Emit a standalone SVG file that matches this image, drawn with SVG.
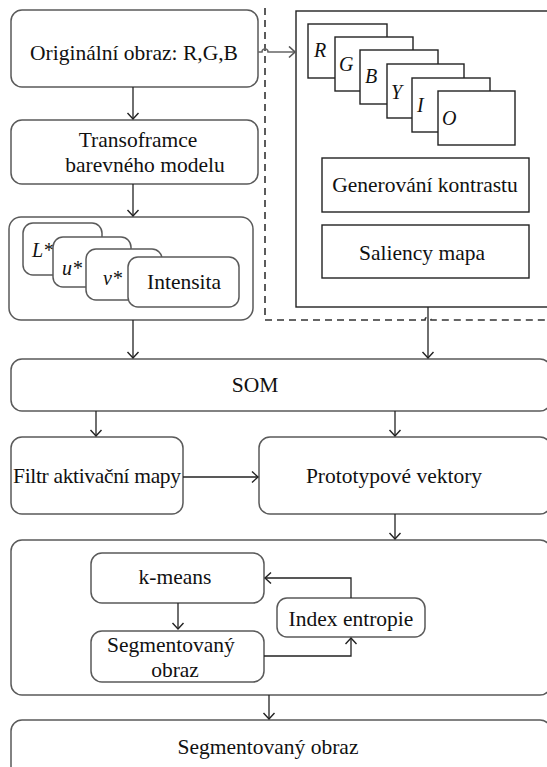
<svg xmlns="http://www.w3.org/2000/svg" width="547" height="767" viewBox="0 0 547 767" font-family="'Liberation Serif', serif">
  <defs>
    <marker id="arrow" markerUnits="userSpaceOnUse" markerWidth="14" markerHeight="14" refX="7" refY="6.5" orient="auto">
      <path d="M1,1 L7,6.5 L1,12" fill="none" stroke="#222" stroke-width="1.4"/>
    </marker>
    <marker id="arrow-grey" markerUnits="userSpaceOnUse" markerWidth="14" markerHeight="14" refX="7" refY="6.5" orient="auto">
      <path d="M1,1 L7,6.5 L1,12" fill="none" stroke="#555" stroke-width="1.6"/>
    </marker>
  </defs>
  <style>
    text { font-family: 'Liberation Serif', serif; font-size: 21.5px; fill: #111; }
    .it { font-style: italic; font-size: 20px; }
    .mid { text-anchor: middle; }
    .rbox { fill: #fff; stroke: #5a5a5a; stroke-width: 1.5; }
    .sbox { fill: #fff; stroke: #222; stroke-width: 1.4; }
    .link { fill: none; stroke: #222; stroke-width: 1.3; marker-end: url(#arrow); }
    .dash { fill: none; stroke: #333; stroke-width: 1.6; stroke-dasharray: 7 5; }
  </style>

  <rect width="547" height="767" fill="#fff"/>

  <!-- dashed boundary of the saliency branch -->
  <path class="dash" d="M265,8 V320 H425 A3,3 0 0 1 431,320 H547"/>

  <g id="original">
    <rect class="rbox" x="11" y="10" width="247" height="77" rx="11"/>
    <text class="mid" x="134" y="60">Originální obraz: R,G,B</text>
  </g>

  <g id="transform">
    <rect class="rbox" x="11" y="120" width="247" height="64" rx="11"/>
    <text class="mid" x="138" y="147">Transoframce</text>
    <text class="mid" x="145" y="172">barevného modelu</text>
  </g>

  <g id="luv">
    <rect class="rbox" x="9" y="217" width="244" height="103" rx="12"/>
    <rect class="rbox" x="23" y="223" width="79" height="52" rx="10"/>
    <text class="it" x="32" y="257">L*</text>
    <rect class="rbox" x="53" y="237" width="78" height="50" rx="10"/>
    <text class="it" x="62" y="275">u*</text>
    <rect class="rbox" x="86" y="249" width="76" height="51" rx="10"/>
    <text class="it" x="103" y="285">v*</text>
    <rect class="rbox" x="128" y="257" width="111" height="50" rx="10"/>
    <text x="147" y="289">Intensita</text>
  </g>

  <g id="saliency">
    <rect class="sbox" x="296" y="11" width="270" height="296"/>
    <g id="channels">
      <rect class="sbox" x="308" y="24" width="79" height="54"/>
      <text class="it" x="314" y="57">R</text>
      <rect class="sbox" x="335" y="37" width="78" height="54"/>
      <text class="it" x="339" y="71">G</text>
      <rect class="sbox" x="360" y="50" width="78" height="54"/>
      <text class="it" x="365" y="83">B</text>
      <rect class="sbox" x="387" y="64" width="77" height="54"/>
      <text class="it" x="391" y="99">Y</text>
      <rect class="sbox" x="412" y="78" width="78" height="54"/>
      <text class="it" x="417" y="112">I</text>
      <rect class="sbox" x="438" y="91" width="77" height="54"/>
      <text class="it" x="442" y="125">O</text>
    </g>
    <g id="contrast">
      <rect class="sbox" x="322" y="158" width="207" height="54"/>
      <text class="mid" x="425" y="192">Generování kontrastu</text>
    </g>
    <g id="saliency-map">
      <rect class="sbox" x="322" y="225" width="207" height="53"/>
      <text class="mid" x="422" y="260">Saliency mapa</text>
    </g>
  </g>

  <g id="som">
    <rect class="rbox" x="11" y="359" width="540" height="52" rx="11"/>
    <text class="mid" x="255" y="392">SOM</text>
  </g>

  <g id="filter">
    <rect class="rbox" x="11" y="437" width="172" height="77" rx="11"/>
    <text x="13" y="483" textLength="168">Filtr aktivační mapy</text>
  </g>

  <g id="prototypes">
    <rect class="rbox" x="259" y="437" width="292" height="77" rx="11"/>
    <text class="mid" x="394" y="483">Prototypové vektory</text>
  </g>

  <g id="clustering">
    <rect class="rbox" x="11" y="540" width="540" height="155" rx="11"/>
    <g id="kmeans">
      <rect class="rbox" x="91" y="553" width="173" height="50" rx="11"/>
      <text class="mid" x="175" y="584">k-means</text>
    </g>
    <g id="segmented-inner">
      <rect class="rbox" x="91" y="631" width="173" height="51" rx="11"/>
      <text x="107" y="652">Segmentovaný</text>
      <text class="mid" x="175" y="677">obraz</text>
    </g>
    <g id="entropy">
      <rect class="rbox" x="277" y="598" width="148" height="39" rx="10"/>
      <text class="mid" x="351" y="626">Index entropie</text>
    </g>
  </g>

  <g id="result">
    <rect class="rbox" x="11" y="720" width="540" height="60" rx="11"/>
    <text class="mid" x="268" y="754">Segmentovaný obraz</text>
  </g>

  <g id="connectors">
    <path d="M258,52 H262 A3,3 0 0 1 268,52 H295" fill="none" stroke="#666" stroke-width="1.5" marker-end="url(#arrow-grey)"/>
    <path class="link" d="M133,87 V119"/>
    <path class="link" d="M133,184 V216"/>
    <path class="link" d="M133,320 V358"/>
    <path class="link" d="M428,307 V358"/>
    <path class="link" d="M96,411 V436"/>
    <path class="link" d="M395,411 V436"/>
    <path class="link" d="M183,477 H258"/>
    <path class="link" d="M395,514 V539"/>
    <path class="link" d="M178,603 V629"/>
    <path class="link" d="M264,656 H351 V638"/>
    <path class="link" d="M351,598 V578 H265"/>
    <path class="link" d="M269,695 V719"/>
  </g>
</svg>
